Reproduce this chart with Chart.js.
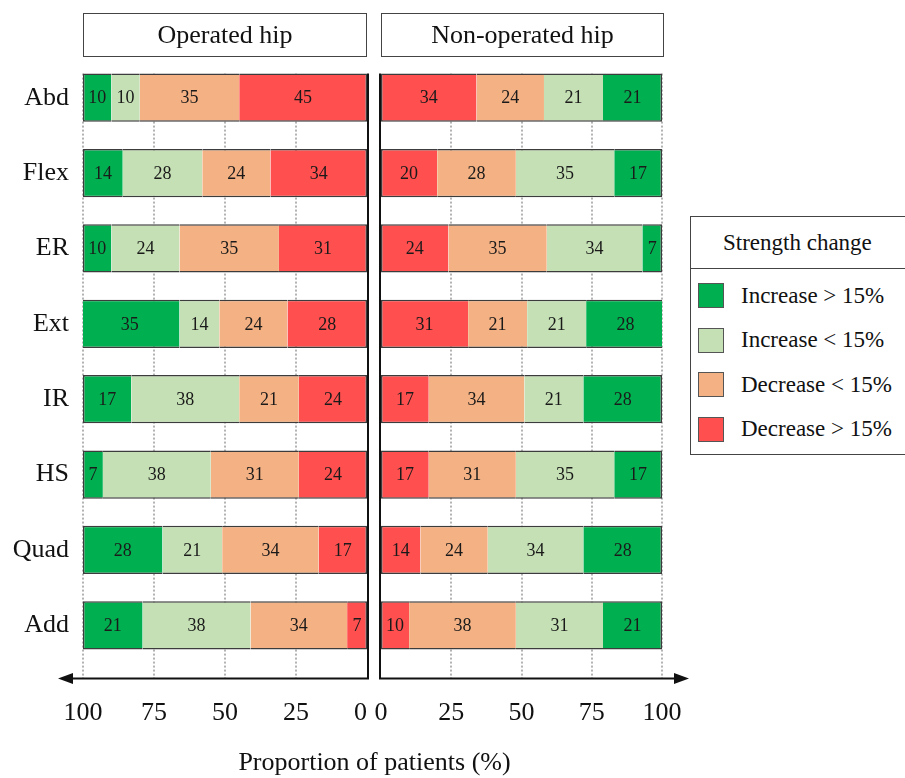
<!DOCTYPE html>
<html>
<head>
<meta charset="utf-8">
<title>Strength change</title>
<script src="https://cdn.jsdelivr.net/npm/chart.js@4.4.1/dist/chart.umd.min.js"></script>
<style>
  html, body { margin: 0; padding: 0; background: #fff; overflow: hidden; }
  #wrap {
    position: relative; width: 905px; height: 778px; overflow: hidden;
    font-family: "Liberation Serif", "Times New Roman", serif; color: #111;
  }
  .layer { position: absolute; left: 0; top: 0; width: 905px; height: 778px; }
  .panel-title {
    position: absolute; top: 13px; height: 44px; box-sizing: border-box;
    border: 1.5px solid #444; text-align: center; font-size: 26px; line-height: 41px;
  }
  #xtitle {
    position: absolute; left: 0; width: 749px; top: 747px; text-align: center;
    font-size: 26px; line-height: 30px;
  }
  #legend {
    position: absolute; left: 690px; top: 216px; width: 240px; height: 239px;
    box-sizing: border-box; border: 1.5px solid #444; background: #fff;
  }
  #legend .lg-title {
    height: 51px; border-bottom: 1.5px solid #444; font-size: 23px; line-height: 51px;
    padding-left: 32px;
  }
  #legend .lg-item {
    position: absolute; left: 7px; height: 25px; display: flex; align-items: center;
    font-size: 23px; white-space: nowrap;
  }
  #legend .sw { width: 24px; height: 23px; border: 1px solid #555; margin-right: 17px; }
</style>
</head>
<body>
<div id="wrap">
  <div class="layer"><canvas id="opChart"></canvas></div>
  <div class="layer"><canvas id="nonChart"></canvas></div>
  <div class="panel-title" id="opTitle" style="left:83px;width:284px;"></div>
  <div class="panel-title" id="nonTitle" style="left:381px;width:283px;"></div>
  <div id="xtitle"></div>
  <div id="legend"><div class="lg-title" id="lgTitle"></div></div>
</div>
<script>
// ---- data ----
const categories = ['Abd', 'Flex', 'ER', 'Ext', 'IR', 'HS', 'Quad', 'Add'];
const panelTitles = ['Operated hip', 'Non-operated hip'];
const xAxisTitle = 'Proportion of patients (%)';
const legendTitle = 'Strength change';
const seriesNames = ['Increase > 15%', 'Increase < 15%', 'Decrease < 15%', 'Decrease > 15%'];
const xTickValues = [0, 25, 50, 75, 100];

// operated hip (%)
const opIncBig = [10, 14, 10, 35, 17, 7, 28, 21];
const opIncSmall = [10, 28, 24, 14, 38, 38, 21, 38];
const opDecSmall = [35, 24, 35, 24, 21, 31, 34, 34];
const opDecBig = [45, 34, 31, 28, 24, 24, 17, 7];

// non-operated hip (%)
const nonIncBig = [21, 17, 7, 28, 28, 17, 28, 21];
const nonIncSmall = [21, 35, 34, 21, 21, 35, 34, 31];
const nonDecSmall = [24, 28, 35, 21, 34, 31, 24, 38];
const nonDecBig = [34, 20, 24, 31, 17, 17, 14, 10];

// ---- styles ----
const seriesColors = ['#00B050', '#C5E0B4', '#F4B183', '#FF4F4F'];
const barBorder = '#3c3c3c';
const BW = 1.5;

Chart.defaults.font.family = '"Liberation Serif", "Times New Roman", serif';
Chart.defaults.color = '#111';

// stacked from 0 outwards: Decrease > 15, Decrease < 15, Increase < 15, Increase > 15
function makeDatasets(incBig, incSmall, decSmall, decBig, baseSide) {
    const endSide = baseSide === 'left' ? 'right' : 'left';
    const order = [3, 2, 1, 0];
    const values = [decBig, decSmall, incSmall, incBig];
    return order.map((s, i) => {
        const bw = { top: BW, bottom: BW, left: 0, right: 0 };
        if (i === 0) bw[baseSide] = BW;
        if (i === order.length - 1) bw[endSide] = BW;
        return {
            label: seriesNames[s],
            data: values[i],
            backgroundColor: seriesColors[s],
            borderColor: barBorder,
            borderWidth: bw,
            borderSkipped: false,
            clip: 0,
            barPercentage: 0.64,
            categoryPercentage: 1
        };
    });
}

// dotted grid, axis line with arrow, and value labels
const panelDecor = {
    id: 'panelDecor',
    beforeDatasetsDraw(chart, args, opts) {
        const { ctx, chartArea, scales } = chart;
        const first = chart.getDatasetMeta(0).data[0];
        const top = first.y - first.height / 2;
        const axisY = chartArea.bottom + 15;
        ctx.save();
        ctx.strokeStyle = '#9a9a9a';
        ctx.lineWidth = 1.5;
        ctx.setLineDash([2, 2]);
        xTickValues.filter(v => v > 0).forEach(v => {
            const x = Math.round(scales.x.getPixelForValue(v));
            ctx.beginPath();
            ctx.moveTo(x, top);
            ctx.lineTo(x, axisY);
            ctx.stroke();
        });
        ctx.restore();
    },
    afterDatasetsDraw(chart, args, opts) {
        const { ctx, chartArea } = chart;
        const first = chart.getDatasetMeta(0).data[0];
        const top = first.y - first.height / 2;
        const axisY = chartArea.bottom + 15.5;

        // value labels
        ctx.save();
        ctx.font = '18px "Liberation Serif", "Times New Roman", serif';
        ctx.fillStyle = '#1a1a1a';
        ctx.textAlign = 'center';
        ctx.textBaseline = 'middle';
        chart.data.datasets.forEach((ds, di) => {
            chart.getDatasetMeta(di).data.forEach((el, i) => {
                const p = el.getCenterPoint();
                ctx.fillText(String(ds.data[i]), p.x, p.y + 1);
            });
        });
        ctx.restore();

        // axis lines with arrow
        const vx = opts.side === 'left' ? chartArea.right + 1 : chartArea.left - 1;
        const tip = opts.side === 'left' ? chartArea.left - 25 : chartArea.right + 27;
        const dir = opts.side === 'left' ? 1 : -1;
        ctx.save();
        ctx.strokeStyle = '#111';
        ctx.fillStyle = '#111';
        ctx.lineWidth = 2;
        ctx.beginPath();
        ctx.moveTo(vx, top);
        ctx.lineTo(vx, axisY);
        ctx.lineTo(tip + dir * 8, axisY);
        ctx.stroke();
        ctx.beginPath();
        ctx.moveTo(tip, axisY);
        ctx.lineTo(tip + dir * 15, axisY - 5.5);
        ctx.lineTo(tip + dir * 15, axisY + 5.5);
        ctx.closePath();
        ctx.fill();
        ctx.restore();
    }
};

function makeChart(id, datasets, side, showY, padding) {
    return new Chart(document.getElementById(id), {
        type: 'bar',
        data: { labels: categories, datasets: datasets },
        options: {
            indexAxis: 'y',
            responsive: true,
            maintainAspectRatio: false,
            animation: false,
            events: [],
            layout: { padding: padding },
            plugins: {
                legend: { display: false },
                tooltip: { enabled: false },
                panelDecor: { side: side }
            },
            scales: {
                x: {
                    stacked: true,
                    min: 0,
                    max: 100,
                    reverse: side === 'left',
                    grid: { display: false, drawTicks: false },
                    border: { display: false },
                    afterFit: s => { s.height = 100; },
                    afterBuildTicks: s => { s.ticks = xTickValues.map(v => ({ value: v })); },
                    ticks: {
                        padding: 35, font: { size: 26 }, color: '#111', maxRotation: 0,
                        // the two zeros sit apart at the panel gap
                        callback: v => (side === 'left' && v === 0) ? '0\u2002' : String(v)
                    }
                },
                y: {
                    stacked: true,
                    display: showY,
                    grid: { display: false, drawTicks: false },
                    border: { display: false },
                    afterFit: s => { if (showY) s.width = 83; },
                    ticks: { padding: 14, font: { size: 26 }, color: '#111' }
                }
            }
        },
        plugins: [panelDecor]
    });
}

makeChart('opChart',
    makeDatasets(opIncBig, opIncSmall, opDecSmall, opDecBig, 'right'),
    'left', true,
    { left: 0, right: 538, top: 60, bottom: 15 });

makeChart('nonChart',
    makeDatasets(nonIncBig, nonIncSmall, nonDecSmall, nonDecBig, 'left'),
    'right', false,
    { left: 381, right: 243, top: 60, bottom: 15 });

// titles and legend
document.getElementById('opTitle').textContent = panelTitles[0];
document.getElementById('nonTitle').textContent = panelTitles[1];
document.getElementById('xtitle').textContent = xAxisTitle;
const legend = document.getElementById('legend');
document.getElementById('lgTitle').textContent = legendTitle;
seriesNames.forEach((name, i) => {
    const row = document.createElement('div');
    row.className = 'lg-item';
    row.style.top = (66 + i * 44.5) + 'px';
    row.innerHTML = '<span class="sw" style="background:' + seriesColors[i] + '"></span><span></span>';
    row.lastChild.textContent = name;
    legend.appendChild(row);
});
</script>
</body>
</html>
